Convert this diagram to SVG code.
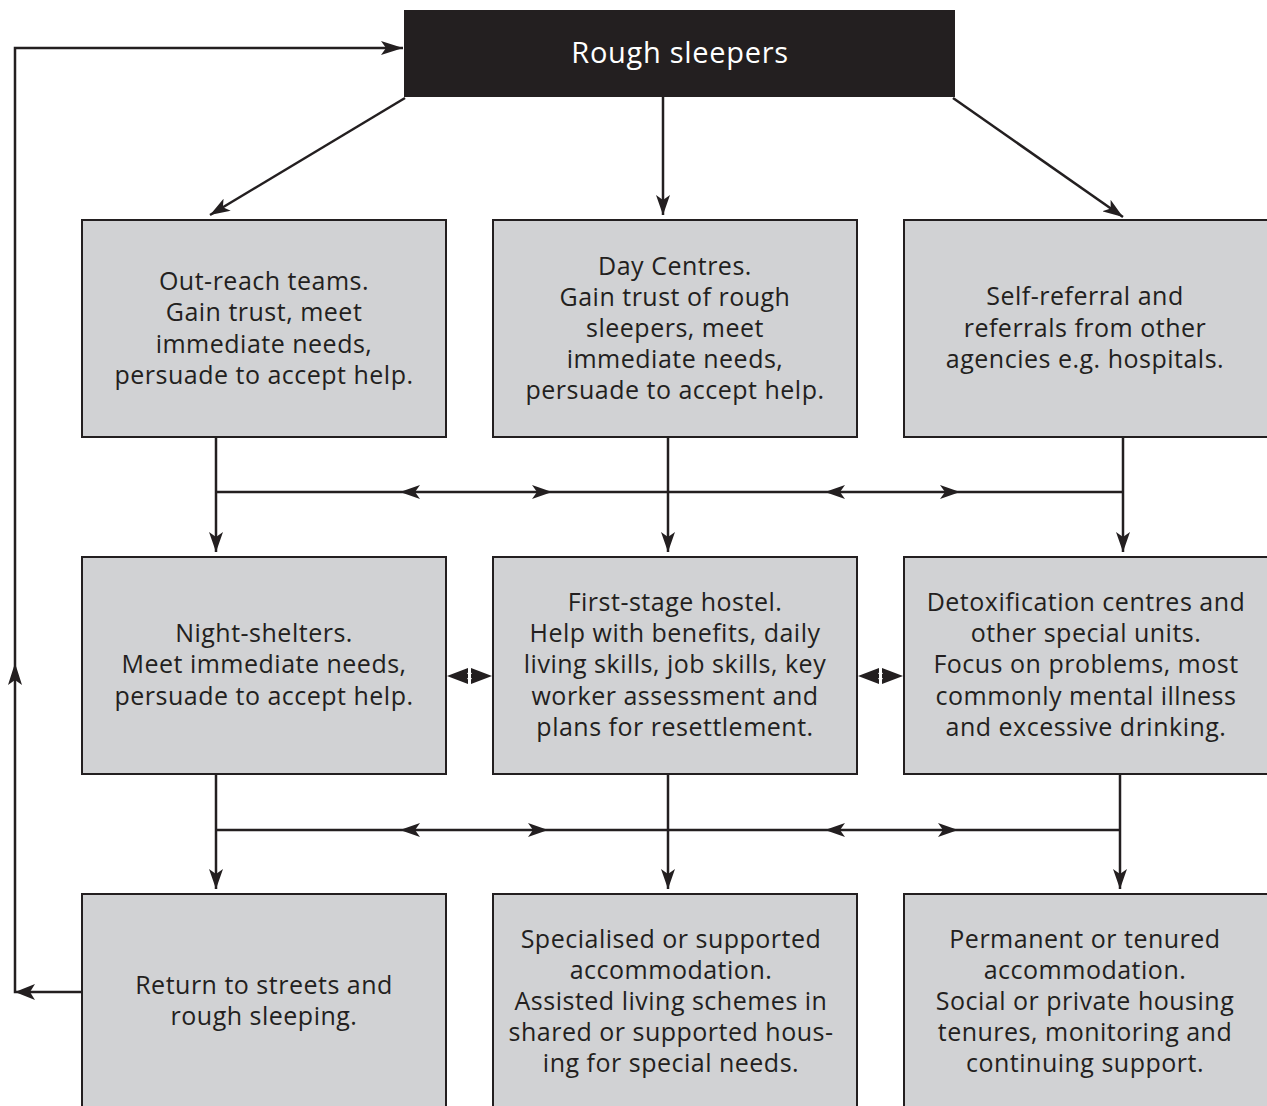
<svg xmlns="http://www.w3.org/2000/svg" width="1267" height="1106" viewBox="0 0 1267 1106">
<style>
.box{fill:#d1d2d4;stroke:#231f20;stroke-width:2}
.t{font-family:"Open Sans","Noto Sans",sans-serif;font-size:25px;font-weight:500;letter-spacing:0.5px;fill:#231f20;text-anchor:middle}
.ln{stroke:#231f20;stroke-width:2.5;fill:none}
.ah{fill:#231f20}
</style>
<defs>
<marker id="arr" viewBox="0 0 20 14" refX="20" refY="7" markerWidth="20" markerHeight="14" markerUnits="userSpaceOnUse" orient="auto">
<path d="M0,0 L20,7 L0,14 L5,7 Z" fill="#231f20"/>
</marker>
</defs>
<rect width="1267" height="1106" fill="#ffffff"/>
<g id="rough-sleepers">
<rect x="404" y="10" width="551" height="87" fill="#231f20"/>
<text x="680" y="63" class="t" style="fill:#ffffff;font-size:29px;letter-spacing:0.7px">Rough sleepers</text>
</g>
<g id="outreach">
<rect class="box" x="82" y="220" width="364" height="217"/>
<text class="t" x="264" y="290">Out-reach teams.</text>
<text class="t" x="264" y="321">Gain trust, meet</text>
<text class="t" x="264" y="353">immediate needs,</text>
<text class="t" x="264" y="384">persuade to accept help.</text>
</g>
<g id="day-centres">
<rect class="box" x="493" y="220" width="364" height="217"/>
<text class="t" x="675" y="275">Day Centres.</text>
<text class="t" x="675" y="306">Gain trust of rough</text>
<text class="t" x="675" y="337">sleepers, meet</text>
<text class="t" x="675" y="368">immediate needs,</text>
<text class="t" x="675" y="399">persuade to accept help.</text>
</g>
<g id="self-referral">
<rect class="box" x="904" y="220" width="370" height="217"/>
<text class="t" x="1085" y="305">Self-referral and</text>
<text class="t" x="1085" y="337">referrals from other</text>
<text class="t" x="1085" y="368">agencies e.g. hospitals.</text>
</g>
<g id="night-shelters">
<rect class="box" x="82" y="557" width="364" height="217"/>
<text class="t" x="264" y="642">Night-shelters.</text>
<text class="t" x="264" y="673">Meet immediate needs,</text>
<text class="t" x="264" y="705">persuade to accept help.</text>
</g>
<g id="first-stage-hostel">
<rect class="box" x="493" y="557" width="364" height="217"/>
<text class="t" x="675" y="611">First-stage hostel.</text>
<text class="t" x="675" y="642">Help with benefits, daily</text>
<text class="t" x="675" y="673">living skills, job skills, key</text>
<text class="t" x="675" y="705">worker assessment and</text>
<text class="t" x="675" y="736">plans for resettlement.</text>
</g>
<g id="detox">
<rect class="box" x="904" y="557" width="370" height="217"/>
<text class="t" x="1086" y="611">Detoxification centres and</text>
<text class="t" x="1086" y="642">other special units.</text>
<text class="t" x="1086" y="673">Focus on problems, most</text>
<text class="t" x="1086" y="705">commonly mental illness</text>
<text class="t" x="1086" y="736">and excessive drinking.</text>
</g>
<g id="return-streets">
<rect class="box" x="82" y="894" width="364" height="230"/>
<text class="t" x="264" y="994">Return to streets and</text>
<text class="t" x="264" y="1025">rough sleeping.</text>
</g>
<g id="specialised">
<rect class="box" x="493" y="894" width="364" height="230"/>
<text class="t" x="671" y="948">Specialised or supported</text>
<text class="t" x="671" y="979">accommodation.</text>
<text class="t" x="671" y="1010">Assisted living schemes in</text>
<text class="t" x="671" y="1041">shared or supported hous-</text>
<text class="t" x="671" y="1072">ing for special needs.</text>
</g>
<g id="permanent">
<rect class="box" x="904" y="894" width="370" height="230"/>
<text class="t" x="1085" y="948">Permanent or tenured</text>
<text class="t" x="1085" y="979">accommodation.</text>
<text class="t" x="1085" y="1010">Social or private housing</text>
<text class="t" x="1085" y="1041">tenures, monitoring and</text>
<text class="t" x="1085" y="1072">continuing support.</text>
</g>
<g id="connectors">
<line class="ln" x1="405" y1="98" x2="210" y2="215" marker-end="url(#arr)"/>
<line class="ln" x1="663" y1="97" x2="663" y2="215" marker-end="url(#arr)"/>
<line class="ln" x1="953" y1="98" x2="1123" y2="217" marker-end="url(#arr)"/>
<line class="ln" x1="216" y1="437" x2="216" y2="552" marker-end="url(#arr)"/>
<line class="ln" x1="668" y1="437" x2="668" y2="552" marker-end="url(#arr)"/>
<line class="ln" x1="1123" y1="437" x2="1123" y2="552" marker-end="url(#arr)"/>
<line class="ln" x1="216" y1="492" x2="1123" y2="492"/>
<path class="ah" d="M400,492 L420,485 L415,492 L420,499 Z"/>
<path class="ah" d="M552,492 L532,485 L537,492 L532,499 Z"/>
<path class="ah" d="M825,492 L845,485 L840,492 L845,499 Z"/>
<path class="ah" d="M960,492 L940,485 L945,492 L940,499 Z"/>
<line class="ln" x1="216" y1="774" x2="216" y2="889" marker-end="url(#arr)"/>
<line class="ln" x1="668" y1="774" x2="668" y2="889" marker-end="url(#arr)"/>
<line class="ln" x1="1120" y1="774" x2="1120" y2="889" marker-end="url(#arr)"/>
<line class="ln" x1="216" y1="830" x2="1120" y2="830"/>
<path class="ah" d="M400,830 L420,823 L415,830 L420,837 Z"/>
<path class="ah" d="M548,830 L528,823 L533,830 L528,837 Z"/>
<path class="ah" d="M825,830 L845,823 L840,830 L845,837 Z"/>
<path class="ah" d="M958,830 L938,823 L943,830 L938,837 Z"/>
<path class="ah" d="M447,676 L468,668 L468,684 Z M492,676 L471,668 L471,684 Z"/>
<path d="M469.5,670 L472,674 L467,674 Z M469.5,682 L472,678 L467,678 Z" fill="#ffffff"/>
<path class="ah" d="M858,676 L879,668 L879,684 Z M903,676 L882,668 L882,684 Z"/>
<path d="M880.5,670 L883,674 L878,674 Z M880.5,682 L883,678 L878,678 Z" fill="#ffffff"/>
<polyline class="ln" points="82,992 15,992 15,48 403,48"/>
<path class="ah" d="M15,992 L35,984 L30,992 L35,1000 Z"/>
<path class="ah" d="M15,663 L8,685 L15,680 L22,685 Z"/>
<path class="ah" d="M403,48 L381,41 L386,48 L381,55 Z"/>
</g>
</svg>
